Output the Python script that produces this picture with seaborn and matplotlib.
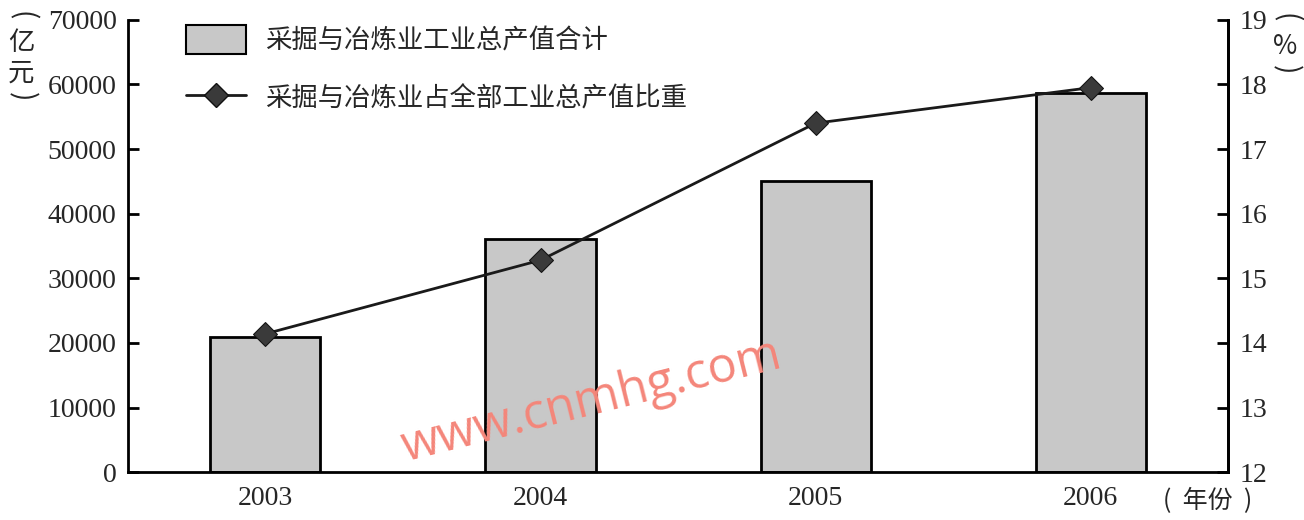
import numpy as np
import pandas as pd
import matplotlib
matplotlib.use("Agg")
import matplotlib.pyplot as plt
from matplotlib.patches import Patch
from matplotlib.lines import Line2D
import seaborn as sns

years = ["2003", "2004", "2005", "2006"]
output_total = [20900, 36000, 45000, 58700]      # 亿元
share_pct = [14.14, 15.28, 17.40, 17.95]          # %
bar_label = "采掘与冶炼业工业总产值合计"
line_label = "采掘与冶炼业占全部工业总产值比重"

sns.set_theme(style="white")
plt.rcParams["font.family"] = ["Liberation Serif", "Noto Sans CJK SC", "DejaVu Sans"]
cjk = ["Noto Sans CJK SC", "DejaVu Sans"]

df = pd.DataFrame({"year": years, "total": output_total, "share": share_pct})

fig, ax = plt.subplots(figsize=(13.04, 5.2), dpi=100)
fig.subplots_adjust(left=0.098, right=0.942, top=0.962, bottom=0.092)

sns.barplot(data=df, x="year", y="total", ax=ax, color="#c8c8c8",
            edgecolor="black", linewidth=2, width=0.4, saturation=1)
ax.set_ylim(0, 70000)
ax.set_xlim(-0.5, 3.5)
ax.set_yticks(np.arange(0, 70001, 10000))
ax.set_xlabel("")
ax.set_ylabel("")

ax2 = ax.twinx()
sns.lineplot(x=np.arange(len(years)), y=share_pct, ax=ax2, color="#1a1a1a",
             linewidth=2, marker="D", markersize=12, markerfacecolor="#3a3a3a",
             markeredgecolor="#111111")
ax2.set_ylim(12, 19)
ax2.set_yticks(np.arange(12, 20, 1))
ax2.set_xlim(-0.5, 3.5)

for a in (ax, ax2):
    for s in a.spines.values():
        s.set_linewidth(2)
        s.set_color("black")
    a.spines["top"].set_visible(False)
ax2.spines["left"].set_visible(False)
ax2.spines["bottom"].set_visible(False)

ax.set_xticks(range(len(years)))
ax.set_xticklabels(years)
ax.set_xticks([0.5, 1.5, 2.5], minor=True)
ax.tick_params(axis="x", which="major", length=0, pad=10, labelsize=20)
ax.tick_params(axis="x", which="minor", direction="in", length=9, width=2, color="black")
ax.tick_params(axis="y", direction="in", length=8, width=2, color="black",
               pad=8, labelsize=20, left=True)
ax2.tick_params(axis="y", direction="in", length=8, width=2, color="black",
                pad=8, labelsize=20, right=True)


def px(x, y):
    return x / 1304, 1 - y / 520


# unit labels, written vertically with sideways brackets
def vtext(x, y, s, **kw):
    fig.text(*px(x, y), s, ha="center", va="center", family=cjk, **kw)


vtext(21, 16, "(", rotation=-90, fontsize=20)
vtext(21, 42, "亿", fontsize=19)
vtext(21, 73, "元", fontsize=19)
vtext(21, 97, ")", rotation=-90, fontsize=20)
vtext(1285, 18, "(", rotation=-90, fontsize=20)
vtext(1285, 46, "%", fontsize=19)
vtext(1285, 70, ")", rotation=-90, fontsize=20)
fig.text(*px(1163, 501), "(  年份  )", va="center", ha="left", fontsize=18, family=cjk)

handles = [Patch(facecolor="#c8c8c8", edgecolor="black", linewidth=1.5),
           Line2D([0], [0], color="#1a1a1a", linewidth=2, marker="D", markersize=12,
                  markerfacecolor="#3a3a3a", markeredgecolor="#111111")]
ax.legend(handles, [bar_label, line_label], loc="upper left",
          bbox_to_anchor=(0.031, 1.04), frameon=False, handlelength=2.3,
          handleheight=1.3, handletextpad=0.7, labelspacing=1.1,
          prop={"family": cjk, "size": 19})

# watermark
fig.text(*px(592, 402), "www.cnmhg.com", rotation=14, color="#f4867a",
         fontsize=35, family=["Open Sans", "DejaVu Sans"],
         ha="center", va="center")

fig.savefig("out.png", dpi=100)
